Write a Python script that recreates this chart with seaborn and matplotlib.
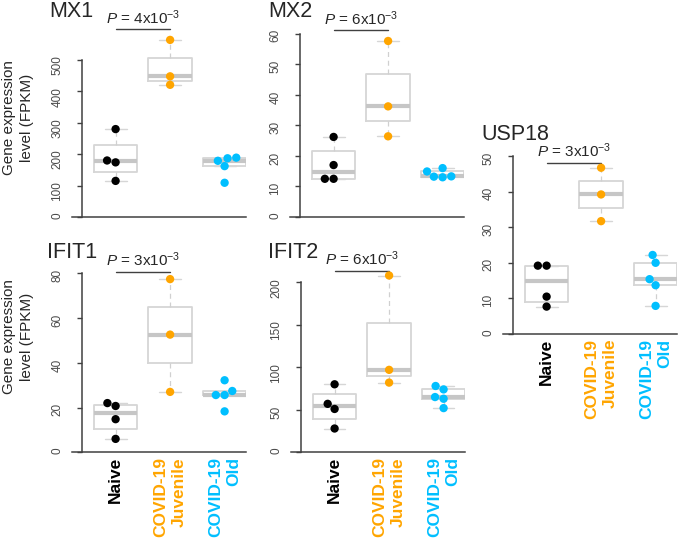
import numpy as np
import pandas as pd
import matplotlib.pyplot as plt
import seaborn as sns

# Data (FPKM per sample)
genes = ["MX1", "MX2", "IFIT1", "IFIT2", "USP18"]
groups = ["Naive", "COVID-19\nJuvenile", "COVID-19\nOld"]
group_colors = ["#000000", "#FFA500", "#00BFFF"]

mx1 = [[280, 174, 180, 115], [564, 448, 421], [187, 162, 179, 189, 109]]
mx2 = [[26.2, 17.0, 12.5, 12.5], [57.6, 36.2, 26.4], [14.9, 13.3, 13.0, 16.0, 13.2]]
ifit1 = [[20.7, 22.0, 14.8, 6.0], [77.4, 52.6, 27.0], [32.2, 27.4, 25.6, 25.6, 18.3]]
ifit2 = [[80, 57, 51, 28], [208, 97, 82], [78, 74, 65, 63, 52]]
usp18 = [[19.2, 19.2, 10.5, 7.7], [46.7, 39.2, 31.7], [22.2, 20.0, 15.4, 13.7, 7.9]]
gene_values = [mx1, mx2, ifit1, ifit2, usp18]

p_mantissa = [4, 6, 3, 6, 3]
p_bar_y = [598, 61.2, 80.7, 213.6, 48.1]
y_tick_max = [500, 60, 80, 200, 50]
y_tick_step = [100, 10, 20, 50, 10]

# Layout in pixels: y-axis x, zero line y, px per unit, ylim top, title x, title baseline
layout = {
    "MX1": (82, 217, 0.314, 600, 49, 17),
    "MX2": (300, 217, 3.056, 62, 268, 17),
    "IFIT1": (82, 452.3, 2.2375, 82, 47, 258),
    "IFIT2": (301, 452.3, 0.85, 216, 268, 258),
    "USP18": (513, 334, 3.56, 51, 481, 140),
}
bottom_row = ["IFIT1", "IFIT2", "USP18"]

sns.set_theme(style="white")
plt.rcParams["font.family"] = ["Liberation Sans", "DejaVu Sans"]
plt.rcParams["mathtext.fontset"] = "custom"
plt.rcParams["mathtext.rm"] = "Liberation Sans"
plt.rcParams["mathtext.it"] = "Liberation Sans:italic"

W, H = 680, 539
fig = plt.figure(figsize=(6.8, 5.39), dpi=100)

x_left, x_right = -0.80, 2.40
px_per_cat = 54.5
axis_color = "#404040"


def fivenum(v):
    x = np.sort(np.asarray(v, dtype=float))
    n = len(x)
    n4 = np.floor((n + 3) / 2) / 2
    d = np.array([1, n4, (n + 1) / 2, n + 1 - n4, n]) - 1
    return 0.5 * (x[np.floor(d).astype(int)] + x[np.ceil(d).astype(int)])


def box_stats(v):
    lo, q1, med, q3, hi = fivenum(v)
    iqr = q3 - q1
    inside = [x for x in v if q1 - 1.5 * iqr <= x <= q3 + 1.5 * iqr]
    return dict(med=med, q1=q1, q3=q3, whislo=min(inside), whishi=max(inside), fliers=[])


for i, gene in enumerate(genes):
    axis_x, zero_y, ppu, ytop, tx, ty = layout[gene]
    rect = [(axis_x - 10) / W, (H - zero_y) / H,
            (x_right - x_left) * px_per_cat / W, ytop * ppu / H]
    ax = fig.add_axes(rect)
    ax.patch.set_alpha(0)

    vals = gene_values[i]
    df = pd.DataFrame({
        "group": np.repeat(groups, [len(v) for v in vals]),
        "value": np.concatenate(vals),
    })

    sns.swarmplot(data=df, x="group", y="value", hue="group", order=groups,
                  hue_order=groups, palette=group_colors, size=6, linewidth=0,
                  legend=False, ax=ax, zorder=3)

    ax.bxp([box_stats(v) for v in vals], positions=[0, 1, 2], widths=0.8,
           showfliers=False, manage_ticks=False, zorder=1,
           boxprops=dict(color="#d6d6d6", lw=1.3),
           medianprops=dict(color="#c6c6c6", lw=3, solid_capstyle="butt"),
           whiskerprops=dict(color="#d0d0d0", lw=0.9, ls=(0, (4, 3))),
           capprops=dict(color="#d6d6d6", lw=1.0))

    ax.set_xlim(x_left, x_right)
    ax.set_ylim(0, ytop)
    ax.set_xlabel("")
    ax.set_ylabel("")

    ax.set_yticks(np.arange(0, y_tick_max[i] + 1, y_tick_step[i]))
    ax.tick_params(axis="y", left=True, length=3.6, width=1, color=axis_color,
                   labelrotation=90, labelsize=8.5, labelcolor="#4a4a4a", pad=10)
    for lab in ax.get_yticklabels():
        lab.set_va("center")

    for s in ["top", "right"]:
        ax.spines[s].set_visible(False)
    ax.spines["left"].set_position(("data", -0.615))
    ax.spines["left"].set_bounds(0, y_tick_max[i])
    for s in ["left", "bottom"]:
        ax.spines[s].set_color(axis_color)
        ax.spines[s].set_linewidth(1.1)

    ax.set_xticks([0, 1, 2])
    if gene in bottom_row:
        ax.set_xticklabels(groups, rotation=90, fontweight="bold", fontsize=12.5,
                           linespacing=1.3, ha="center", va="top",
                           multialignment="right")
        for lab, c in zip(ax.get_xticklabels(), group_colors):
            lab.set_color(c)
        ax.tick_params(axis="x", length=0, pad=3.5)
    else:
        ax.tick_params(axis="x", length=0, labelbottom=False)

    # significance bar Naive vs Juvenile
    ax.plot([0, 1], [p_bar_y[i], p_bar_y[i]], color=axis_color, lw=1, clip_on=False)
    ax.annotate(rf"$\it{{P}}$ = {p_mantissa[i]}x10$^{{-3}}$", xy=(0.5, p_bar_y[i]),
                xytext=(0, 3.8), textcoords="offset points", ha="center",
                va="baseline", fontsize=11, annotation_clip=False)

    fig.text(tx / W, 1 - ty / H, gene, fontsize=15.5, ha="left", va="baseline")

for cy in [117.5, 337]:
    fig.text(18 / W, 1 - cy / H, "Gene expression\nlevel (FPKM)", rotation=90,
             ha="center", va="center", fontsize=11, linespacing=1.3)

plt.savefig("out.png", dpi=100)
